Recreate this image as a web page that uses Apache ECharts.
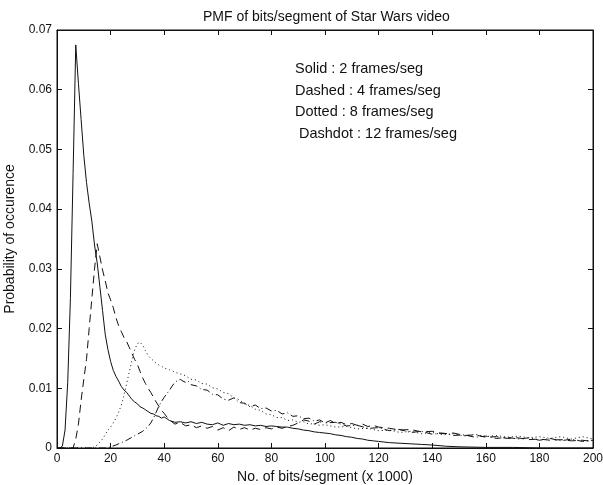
<!DOCTYPE html>
<html>
<head>
<meta charset="utf-8">
<script src="https://cdn.jsdelivr.net/npm/echarts@6/dist/echarts.min.js"></script>
<style>
  html, body { margin: 0; padding: 0; background: #fff; }
  #main { width: 603px; height: 485px; }
</style>
</head>
<body>
<div id="main"></div>
<script>
// points [bits/segment (x1000), probability]
const solid = [
  [0,0],[1,0],[2,0.0003],[3,0.003],[4,0.011],[5,0.025],[6,0.046],[7,0.0675],[8,0.061],[9,0.055],
  [10,0.049],[11,0.0445],[12,0.041],[13,0.038],[14,0.034],[15,0.031],[16,0.027],[17,0.023],[18,0.019],[19,0.0165],
  [20,0.0145],[21,0.013],[22,0.012],[23,0.0112],[24,0.0103],[25,0.0097],[26,0.0093],[27,0.0087],[28,0.0081],[29,0.0077],
  [30,0.0074],[31,0.0069],[32,0.0067],[33,0.0064],[34,0.0061],[35,0.0058],[36,0.0057],[37,0.0054],[38,0.0053],[39,0.0050],
  [40,0.0052],[41,0.0049],[42,0.0046],[44,0.0043],[46,0.0044],[48,0.0042],[50,0.0044],[52,0.0041],[54,0.0043],[56,0.0040],
  [58,0.0039],[60,0.0042],[62,0.0038],[64,0.0041],[66,0.0039],[68,0.0040],[70,0.0038],[72,0.0039],[74,0.0037],[76,0.0038],
  [78,0.0036],[80,0.0037],[82,0.0036],[84,0.0035],[86,0.0035],[88,0.0033],[90,0.0032],[92,0.0030],[94,0.0029],[96,0.0027],
  [98,0.0026],[100,0.0025],[102,0.0024],[104,0.0022],[106,0.0021],[108,0.0019],[110,0.0018],[112,0.0016],[114,0.0015],[116,0.0013],
  [118,0.0012],[120,0.0011],[124,0.0009],[128,0.0008],[132,0.0007],[136,0.0006],[140,0.0005],[145,0.0003],[150,0.0002],[160,0.0001],
  [170,0.0001],[180,0],[200,0]
];
const dashed = [
  [0,0],[6,0],[7,0.0015],[8,0.004],[9,0.008],[10,0.0115],[11,0.0148],[12,0.020],[13,0.025],[14,0.030],
  [15,0.0342],[16,0.032],[17,0.0298],[18,0.028],[19,0.026],[20,0.0248],[21,0.0235],[22,0.0218],[23,0.0205],[24,0.0195],
  [25,0.0185],[26,0.0178],[27,0.0168],[28,0.0158],[29,0.0148],[30,0.014],[31,0.0128],[32,0.0117],[33,0.0108],[34,0.0100],
  [35,0.0093],[36,0.0085],[37,0.0077],[38,0.0070],[39,0.0063],[40,0.0058],[41,0.0052],[42,0.0047],[44,0.0040],[46,0.0043],
  [48,0.0037],[50,0.0039],[52,0.0034],[54,0.0037],[56,0.0033],[58,0.0036],[60,0.0030],[62,0.0034],[64,0.0029],[66,0.0035],
  [68,0.0031],[70,0.0034],[72,0.0030],[74,0.0033],[76,0.0031],[78,0.0034],[80,0.0032],[82,0.0035],[84,0.0033],[86,0.0036],
  [88,0.0038],[90,0.0042],[92,0.0047],[94,0.0045],[96,0.0040],[98,0.0044],[100,0.0042],[102,0.0046],[104,0.0041],[106,0.0043],
  [108,0.0039],[110,0.0041],[112,0.0038],[114,0.0040],[116,0.0036],[118,0.0038],[120,0.0035],[124,0.0033],[128,0.0030],[132,0.0031],
  [136,0.0027],[140,0.0028],[144,0.0024],[148,0.0025],[152,0.0021],[156,0.0022],[160,0.0018],[164,0.0019],[168,0.0016],[172,0.0017],
  [176,0.0014],[180,0.0015],[184,0.0013],[188,0.0014],[192,0.0012],[196,0.0013],[200,0.0011]
];
const dotted = [
  [0,0],[13,0],[14,0.0002],[15,0.0005],[16,0.001],[17,0.0015],[18,0.0022],[19,0.003],[20,0.0035],[21,0.0042],
  [22,0.005],[23,0.006],[24,0.0072],[25,0.0088],[26,0.0108],[27,0.0128],[28,0.0148],[29,0.0165],[30,0.0175],[31,0.0177],
  [32,0.0172],[33,0.0163],[34,0.0155],[35,0.0150],[36,0.0146],[37,0.0142],[38,0.0139],[39,0.0137],[40,0.0134],[42,0.0131],
  [44,0.0127],[46,0.0124],[48,0.0121],[50,0.0115],[52,0.0114],[54,0.0108],[56,0.0107],[58,0.0101],[60,0.0099],[62,0.0093],
  [64,0.0091],[66,0.0084],[68,0.0081],[70,0.0074],[72,0.0071],[74,0.0065],[76,0.0063],[78,0.0057],[80,0.0056],[82,0.0051],
  [84,0.0051],[86,0.0046],[88,0.0047],[90,0.0043],[92,0.0044],[94,0.0040],[96,0.0041],[98,0.0038],[100,0.0039],[104,0.0035],
  [108,0.0036],[112,0.0032],[116,0.0033],[120,0.0029],[124,0.0030],[128,0.0026],[132,0.0028],[136,0.0024],[140,0.0026],[144,0.0022],
  [148,0.0024],[152,0.0020],[156,0.0023],[160,0.0019],[164,0.0021],[168,0.0018],[172,0.0020],[176,0.0017],[180,0.0019],[184,0.0016],
  [188,0.0019],[192,0.0015],[196,0.0019],[200,0.0015]
];
const dashdot = [
  [0,0],[19,0],[20,0.0002],[22,0.0005],[24,0.0009],[26,0.0013],[28,0.0018],[30,0.0023],[32,0.0028],[34,0.0036],
  [35,0.0042],[36,0.0050],[37,0.0060],[38,0.0070],[39,0.0078],[40,0.0085],[41,0.0091],[42,0.0097],[43,0.0104],[44,0.0110],
  [45,0.0113],[46,0.0115],[47,0.0112],[48,0.0110],[49,0.0112],[50,0.0106],[52,0.0104],[54,0.0098],[56,0.0097],[58,0.0090],
  [60,0.0089],[62,0.0082],[64,0.0080],[66,0.0084],[68,0.0076],[70,0.0075],[72,0.0069],[74,0.0072],[76,0.0066],[78,0.0067],
  [80,0.0062],[82,0.0063],[84,0.0057],[86,0.0059],[88,0.0053],[90,0.0054],[92,0.0049],[94,0.0050],[96,0.0045],[98,0.0047],
  [100,0.0042],[104,0.0043],[108,0.0037],[112,0.0038],[116,0.0033],[120,0.0034],[124,0.0029],[128,0.0031],[132,0.0026],[136,0.0028],
  [140,0.0023],[144,0.0025],[148,0.0021],[152,0.0022],[156,0.0018],[160,0.0020],[164,0.0016],[168,0.0018],[172,0.0015],[176,0.0017],
  [180,0.0013],[184,0.0016],[188,0.0012],[192,0.0015],[196,0.0011],[200,0.0013]
];
const legendLines = [
  'Solid : 2 frames/seg',
  'Dashed : 4 frames/seg',
  'Dotted : 8 frames/seg',
  'Dashdot : 12 frames/seg'
];

const ink = '#111';
const font = 'Liberation Sans, Arial, sans-serif';

function lineSeries(data, dash) {
  return {
    type: 'line',
    data: data,
    showSymbol: false,
    silent: true,
    lineStyle: { color: ink, width: 1, type: dash }
  };
}

let chart = echarts.init(document.getElementById('main'));
chart.setOption({
  animation: false,
  title: {
    text: 'PMF of bits/segment of Star Wars video',
    left: 198,
    top: 5,
    textStyle: { fontFamily: font, fontSize: 14, fontWeight: 'normal', color: ink }
  },
  grid: {
    left: 57, right: 10, top: 30, bottom: 37,
    outerBoundsMode: 'none',
    show: true, borderColor: ink, borderWidth: 1
  },
  xAxis: [
    {
      type: 'value', min: 0, max: 200, interval: 20,
      name: 'No. of bits/segment (x 1000)',
      nameLocation: 'middle', nameGap: 17,
      nameTextStyle: { fontFamily: font, fontSize: 14, color: ink },
      axisLine: { onZero: false, lineStyle: { color: ink } },
      axisTick: { inside: true, length: 5, lineStyle: { color: ink } },
      axisLabel: { fontFamily: font, fontSize: 12, color: ink, margin: 5 },
      splitLine: { show: false }
    },
    {
      type: 'value', min: 0, max: 200, interval: 20, position: 'top',
      axisLine: { onZero: false, lineStyle: { color: ink } },
      axisTick: { inside: true, length: 5, lineStyle: { color: ink } },
      axisLabel: { show: false },
      splitLine: { show: false }
    }
  ],
  yAxis: [
    {
      type: 'value', min: 0, max: 0.07, interval: 0.01,
      name: 'Probability of occurence',
      nameLocation: 'middle', nameGap: 40,
      nameTextStyle: { fontFamily: font, fontSize: 14, color: ink },
      axisLine: { show: true, onZero: false, lineStyle: { color: ink } },
      axisTick: { show: true, inside: true, length: 5, lineStyle: { color: ink } },
      axisLabel: { fontFamily: font, fontSize: 12, color: ink, margin: 5 },
      splitLine: { show: false }
    },
    {
      type: 'value', min: 0, max: 0.07, interval: 0.01, position: 'right',
      axisLine: { show: true, onZero: false, lineStyle: { color: ink } },
      axisTick: { show: true, inside: true, length: 5, lineStyle: { color: ink } },
      axisLabel: { show: false },
      splitLine: { show: false }
    }
  ],
  graphic: legendLines.map((t, i) => ({
    type: 'text',
    x: i === 3 ? 299 : 295,
    y: 69 + i * 21.7,
    style: { text: t, fontFamily: font, fontSize: 14.5, fill: ink, verticalAlign: 'middle' }
  })),
  series: [
    lineSeries(solid, 'solid'),
    lineSeries(dashed, [8, 5]),
    lineSeries(dotted, [1, 3]),
    lineSeries(dashdot, [7, 3, 1, 3])
  ]
});
</script>
</body>
</html>
